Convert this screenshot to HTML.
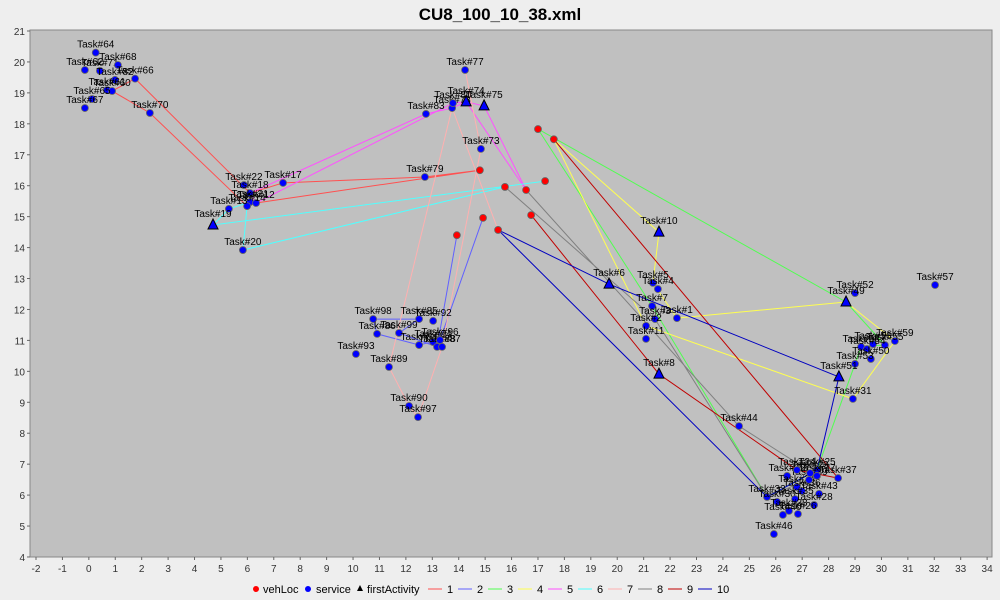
<!DOCTYPE html>
<html><head><meta charset="utf-8"><style>
html,body{margin:0;padding:0;background:#eeeeee;}
svg{display:block;font-family:"Liberation Sans",sans-serif;}
</style></head><body>
<svg id="c" width="1000" height="600"></svg>
<script>
const xTicks=[-2,-1,0,1,2,3,4,5,6,7,8,9,10,11,12,13,14,15,16,17,18,19,20,21,22,23,24,25,26,27,28,29,30,31,32,33,34];
const yTicks=[4,5,6,7,8,9,10,11,12,13,14,15,16,17,18,19,20,21];
const vehLocX=[17.0,17.6,14.8,17.27,15.75,16.55,14.92,16.74,13.93,15.49];
const vehLocY=[17.83,17.5,16.5,16.15,15.96,15.86,14.96,15.05,14.4,14.57];
const svcX=[0.26,-0.15,0.42,1.10,1.75,0.99,0.69,0.88,0.12,-0.15,2.31,7.35,5.87,6.10,6.10,6.33,5.99,5.30,5.83,12.76,13.75,13.78,14.24,14.84,12.72,10.76,12.50,13.03,10.91,11.74,12.50,13.03,13.18,13.37,13.29,10.11,11.36,12.12,12.46,21.35,21.54,21.32,21.43,21.09,22.26,21.09,32.03,29.00,30.51,30.13,29.68,29.23,29.45,29.60,29.00,28.92,24.61,27.56,28.36,26.43,26.80,26.99,27.26,27.56,27.64,25.67,26.05,26.73,27.45,26.50,26.27,26.84,25.93,27.30,26.80];
const svcY=[20.30,19.74,19.71,19.90,19.46,19.42,19.09,19.06,18.80,18.51,18.35,16.09,16.02,15.76,15.47,15.44,15.34,15.25,13.92,18.32,18.51,18.67,19.74,17.19,16.28,11.69,11.69,11.63,11.21,11.24,10.85,10.95,10.79,10.79,11.01,10.56,10.14,8.88,8.52,12.86,12.66,12.11,11.69,11.47,11.72,11.05,12.79,12.53,10.98,10.85,10.88,10.79,10.72,10.40,10.24,9.11,8.23,6.81,6.55,6.62,6.26,6.13,6.49,6.62,6.04,5.94,5.78,5.87,5.68,5.49,5.36,5.39,4.74,6.71,6.81];
const svcLabel=["Task#64","Task#62","Task#71","Task#68","Task#66","Task#82","Task#61","Task#60","Task#65","Task#67","Task#70","Task#17","Task#22","Task#18","Task#21","Task#12","Task#14","Task#13","Task#20","Task#83","Task#78","Task#80","Task#77","Task#73","Task#79","Task#98","Task#85","Task#92","Task#86","Task#99","Task#84","Task#94","Task#88","Task#87","Task#96","Task#93","Task#89","Task#90","Task#97","Task#5","Task#4","Task#7","Task#3","Task#2","Task#1","Task#11","Task#57","Task#52","Task#59","Task#55","Task#56","Task#58","Task#54","Task#50","Task#53","Task#31","Task#44","Task#25","Task#37","Task#32","Task#34","Task#36","Task#39","Task#27","Task#43","Task#33","Task#30","Task#35","Task#28","Task#38","Task#40","Task#26","Task#46","Task#29","Task#24"];
const firstX=[4.70,14.28,14.96,19.69,21.58,21.58,28.66,28.39];
const firstY=[14.73,18.71,18.58,12.82,14.50,9.91,12.24,9.82];
const firstLabel=["Task#19","Task#74","Task#75","Task#6","Task#10","Task#8","Task#49","Task#51"];
const routeColors=["#ff5050","#6060ff","#50ff50","#ffff50","#ff50ff","#50ffff","#ffb0b0","#808080","#c00000","#0000c0"];
const routeX=[
 [14.8,12.72,7.35,6.10,1.75,0.88,2.31,5.99,6.33,14.8],
 [14.92,13.29,12.50,10.91,10.76,12.50,11.74,13.18,13.93],
 [17.0,28.66,30.13,29.23,27.56,25.67,21.32,17.0],
 [17.6,21.58,21.35,22.26,28.66,30.51,28.92,21.09,17.6],
 [16.55,14.96,14.28,13.78,6.33,6.10,12.76,13.75,14.28,16.55],
 [17.27,4.70,5.30,6.10,5.99,5.83,15.75],
 [15.49,13.75,11.36,12.12,12.46,13.37,14.84,14.24],
 [15.75,21.43,25.67,27.56,24.61,16.55],
 [16.74,21.58,26.80,28.36,17.6],
 [15.49,25.67,27.56,28.39,19.69,15.49]];
const routeY=[
 [16.5,16.28,16.09,15.76,19.46,19.06,18.35,15.34,15.44,16.5],
 [14.96,11.01,10.85,11.21,11.69,11.69,11.24,10.79,14.4],
 [17.83,12.24,10.85,10.79,6.81,5.94,12.11,17.83],
 [17.5,14.50,12.86,11.72,12.24,10.98,9.11,11.47,17.5],
 [15.86,18.58,18.71,18.67,15.44,15.76,18.32,18.51,18.71,15.86],
 [16.15,14.73,15.25,15.47,15.34,13.92,15.96],
 [14.57,18.51,10.14,8.88,8.52,10.79,17.19,19.74],
 [15.96,11.69,5.94,6.62,8.23,15.86],
 [15.05,9.91,6.81,6.55,17.5],
 [14.57,5.94,6.81,9.82,12.82,14.57]];
const legendNames=["1","2","3","4","5","6","7","8","9","10"];

const NS="http://www.w3.org/2000/svg";
const svg=document.getElementById('c');
const L=30,R=992,T=30,B=557;
const X=v=>36+(v+2)*26.42;
const Y=v=>31+(21-v)*30.94;
function mk(tag,attrs,parent){const e=document.createElementNS(NS,tag);for(const k in attrs)e.setAttribute(k,attrs[k]);(parent||svg).appendChild(e);return e;}
function txt(s,attrs,parent){const e=mk('text',attrs,parent);e.textContent=s;return e;}

const title=txt("CU8_100_10_38.xml",{x:500,y:20,'text-anchor':'middle','font-size':17,'font-weight':'bold',fill:'#000'});


const plot=mk('rect',{x:L,y:T,width:R-L,height:B-T,fill:'#c0c0c0',stroke:'#888','stroke-width':1});



const xAxis=mk('g',{});


xTicks.forEach(t=>{
 mk('line',{x1:X(t),x2:X(t),y1:B,y2:B+3,stroke:'#666'},xAxis);
 const e=txt(String(t),{x:X(t),y:B+15,'text-anchor':'middle','font-size':10,fill:'#333'},xAxis);
 
 
});
const yAxis=mk('g',{});


yTicks.forEach(t=>{
 mk('line',{x1:L-3,x2:L,y1:Y(t),y2:Y(t),stroke:'#666'},yAxis);
 const e=txt(String(t),{x:L-5,y:Y(t)+4,'text-anchor':'end','font-size':10,fill:'#333'},yAxis);
 
 
});

routeX.forEach((xs,i)=>{
 const pts=xs.map((x,j)=>X(x).toFixed(1)+','+Y(routeY[i][j]).toFixed(1)).join(' ');
 const p=mk('polyline',{points:pts,fill:'none',stroke:routeColors[i],'stroke-width':1});
 
 
});

vehLocX.forEach((x,i)=>{
 const c=mk('circle',{cx:X(x),cy:Y(vehLocY[i]),r:3.5,fill:'#ff0000',stroke:'#666','stroke-width':0.8});
 
 
});
svcX.forEach((x,i)=>{
 const c=mk('circle',{cx:X(x),cy:Y(svcY[i]),r:3.5,fill:'#0000ff',stroke:'#666','stroke-width':0.8});
 
 
 const t=txt(svcLabel[i],{x:X(x),y:Y(svcY[i])-5,'text-anchor':'middle','font-size':10,fill:'#000'});
 
 
});
firstX.forEach((x,i)=>{
 const cx=X(x),cy=Y(firstY[i]);
 const p=mk('polygon',{points:`${cx},${cy-6} ${cx-5},${cy+4} ${cx+5},${cy+4}`,fill:'#0000ff',stroke:'#000','stroke-width':1});
 
 
 const t=txt(firstLabel[i],{x:cx,y:cy-8,'text-anchor':'middle','font-size':10,fill:'#000'});
 
 
});

const lg=mk('g',{});


const ly=589;
mk('circle',{cx:256,cy:ly,r:3,fill:'#ff0000'},lg);
txt('vehLoc',{x:263,y:ly+4,'font-size':11,fill:'#000'},lg);
mk('circle',{cx:308,cy:ly,r:3,fill:'#0000ff'},lg);
txt('service',{x:316,y:ly+4,'font-size':11,fill:'#000'},lg);
mk('polygon',{points:`360,${ly-4} 357,${ly+2} 363,${ly+2}`,fill:'#000'},lg);
txt('firstActivity',{x:367,y:ly+4,'font-size':11,fill:'#000'},lg);
legendNames.forEach((n,i)=>{
 const x0=428+i*30;
 const item=mk('g',{},lg);
 
 
 mk('line',{x1:x0,x2:x0+14,y1:ly,y2:ly,stroke:routeColors[i],'stroke-width':1},item);
 txt(n,{x:x0+19,y:ly+4,'font-size':11,fill:'#000'},item);
});
</script>
</body></html>
